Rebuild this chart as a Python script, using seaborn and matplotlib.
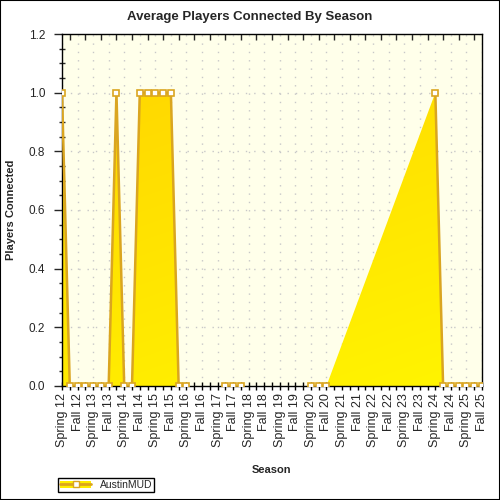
import numpy as np
import pandas as pd
import matplotlib
matplotlib.use("Agg")
import matplotlib.pyplot as plt
import seaborn as sns
from matplotlib.patches import Patch, Rectangle
from matplotlib.lines import Line2D
from matplotlib.legend_handler import HandlerTuple

# Season labels (one label every two half-season periods)
seasons = ["Spring 12", "Fall 12", "Spring 13", "Fall 13", "Spring 14", "Fall 14",
           "Spring 15", "Fall 15", "Spring 16", "Fall 16", "Spring 17", "Fall 17",
           "Spring 18", "Fall 18", "Spring 19", "Fall 19", "Spring 20", "Fall 20",
           "Spring 21", "Fall 21", "Spring 22", "Fall 22", "Spring 23", "Fall 23",
           "Spring 24", "Fall 24", "Spring 25", "Fall 25"]

# Average players per half-season period (None = no data)
players = [1, 0, 0, 0, 0, 0, 0, 1, 0, 0,
           1, 1, 1, 1, 1, 0, 0, None, None, None,
           None, 0, 0, 0, None, None, None, None, None, None,
           None, None, 0, 0, 0, None, None, None, None, None,
           None, None, None, None, None, None, None, None, 1, 0,
           0, 0, 0, 0, 0]

df = pd.DataFrame({"period": np.arange(len(players)), "players": players}, dtype=float)
df["segment"] = df["players"].isna().cumsum()
valid = df.dropna().reset_index(drop=True)

sns.set_style("ticks")
plt.rcParams["font.family"] = ["Liberation Sans", "DejaVu Sans"]

fig = plt.figure(figsize=(5, 5), dpi=100)
ax = fig.add_axes([0.124, 0.228, 0.84, 0.704])
ax.set_facecolor("#FFFFEA")

xmax = len(players) - 1
ymax = 1.2

# gradient yellow area
poly = ax.fill_between(valid["period"], valid["players"], 0, facecolor="none",
                       edgecolor="none", zorder=1)
gx, gy = np.meshgrid(np.linspace(0, xmax, 200), np.linspace(ymax, 0, 200))
g = np.clip(235 - 20 * gy + 10 * gx / xmax, 0, 255) / 255.0
img = np.dstack([np.ones_like(g), g, np.zeros_like(g)])
im = ax.imshow(img, extent=[0, xmax, 0, ymax], aspect="auto", zorder=1.5,
               interpolation="bilinear")
im.set_clip_path(poly.get_paths()[0], transform=ax.transData)

sns.lineplot(data=valid, x="period", y="players", units="segment", estimator=None,
             color="#DAA520", linewidth=1.8, marker="s", markersize=5,
             markerfacecolor="white", markeredgecolor="#DAA520",
             markeredgewidth=1.2, ax=ax, zorder=3, legend=False)

ax.set_xlim(0, xmax)
ax.set_ylim(0, ymax)

ax.set_xticks(np.arange(0, xmax + 1, 2))
ax.set_xticklabels(seasons, rotation=90, fontsize=9)
ax.set_xticks(np.arange(1, xmax + 1, 2), minor=True)
ax.set_yticks(np.arange(0, 1.21, 0.2))
ax.set_yticklabels([f"{v:.1f}" for v in np.arange(0, 1.21, 0.2)], fontsize=8.5)
ax.set_yticks(np.arange(0, 1.21, 0.05), minor=True)

ax.tick_params(axis="x", which="both", direction="inout", length=6, width=1,
               color="black", pad=2)
ax.tick_params(axis="y", which="major", direction="out", length=6, width=1, pad=6)
ax.tick_params(axis="y", which="minor", direction="inout", length=5, width=1)

top = ax.secondary_xaxis("top")
top.set_xticks(np.arange(1, xmax + 1, 2))
top.set_xticklabels([])
top.tick_params(direction="in", length=4, width=1)
for sp in top.spines.values():
    sp.set_visible(False)

for sp in ax.spines.values():
    sp.set_visible(True)
    sp.set_color("black")
    sp.set_linewidth(1)

ax.grid(True, which="major", color="#C8C8C8", linestyle=(0, (1, 5)), linewidth=1)
ax.set_axisbelow(True)

ax.set_xlabel("Season", fontsize=8, fontweight="bold")
ax.set_ylabel("Players Connected", fontsize=8, fontweight="bold")
ax.xaxis.set_label_coords(0.5, -0.224)
ax.yaxis.set_label_coords(-0.11, 0.5)

fig.suptitle("Average Players Connected By Season", fontsize=9.5, fontweight="bold",
             x=0.5, y=0.966, va="center")

handle = (Patch(facecolor="#FFEE00", edgecolor="none"),
          Line2D([], [], color="#DAA520", linewidth=2, marker="s", markersize=5,
                 markerfacecolor="white", markeredgecolor="#DAA520"))
leg = fig.legend([handle], ["AustinMUD"], handler_map={tuple: HandlerTuple(ndivide=1)},
                 loc="lower left", bbox_to_anchor=(0.116, 0.016), fontsize=7.5,
                 frameon=True, fancybox=False, edgecolor="black", framealpha=1,
                 borderpad=0.2, handlelength=3, handleheight=0.6, borderaxespad=0)
leg.get_frame().set_linewidth(1)

fig.patches.append(Rectangle((0, 0), 1, 1, transform=fig.transFigure, fill=False,
                             edgecolor="black", linewidth=1.5))

fig.savefig("out.png", dpi=100)
